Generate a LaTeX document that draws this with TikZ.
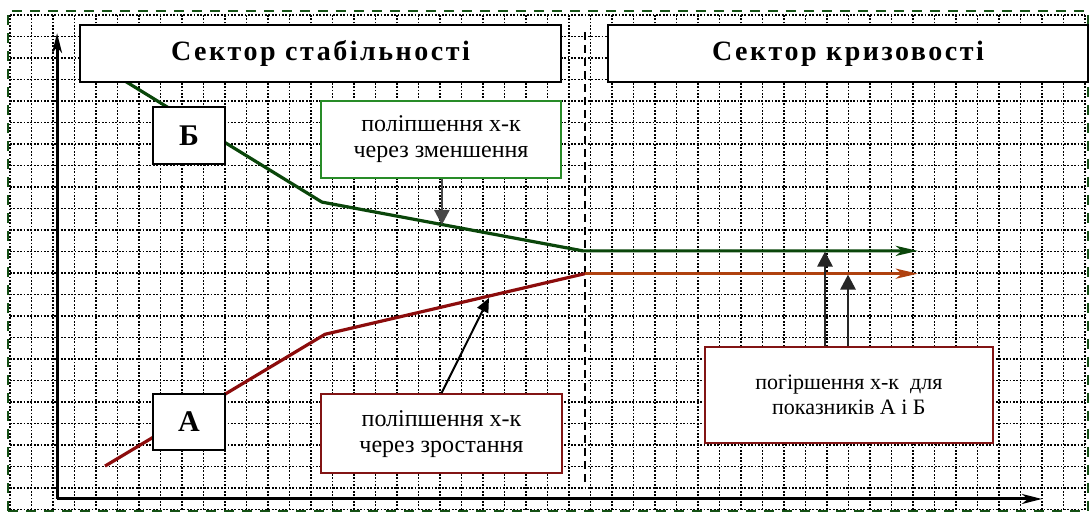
\documentclass[tikz,border=0pt]{standalone}
\usepackage{fontspec}
\setmainfont{Liberation Serif}
\newfontfamily\spacedfont[LetterSpace=9]{Liberation Serif}
\usepackage{tikz}
\usetikzlibrary{arrows.meta,positioning,calc}
\definecolor{curveB}{RGB}{10,70,10}
\definecolor{curveA}{RGB}{140,12,12}
\definecolor{curveAflat}{RGB}{175,65,15}
\definecolor{boxgreen}{RGB}{40,140,40}
\definecolor{boxred}{RGB}{130,20,20}
\definecolor{framegreen}{RGB}{20,80,20}
\tikzset{%
  box/.style={draw,fill=white,align=center,line width=1pt,inner sep=0pt},
  arrow/.style={-{Triangle[length=7.5pt,width=7.5pt]}, line width=1.4pt}%
}

\begin{document}
\begin{tikzpicture}[
    x=10.75pt, y=10.75pt,
    sector/.style={
        box,
        minimum width=240.5pt,
        minimum height=28.5pt,
        font=\spacedfont\bfseries\fontsize{14}{16}\selectfont
    },
    tag/.style={
        box,
        minimum width=36pt,
        minimum height=28.5pt,
        font=\bfseries\fontsize{15}{17}\selectfont
    },
    note/.style={
        box,
        font=\fontsize{12}{13}\selectfont
    },
    gridline/.style={black, line width=0.9pt, dash pattern=on 0.9pt off 0.8pt},
    axis/.style={-{Stealth[length=10pt,width=5pt,inset=3pt]}, line width=1.5pt},
    curve/.style={line width=1.6pt},
    tip/.style={-{Stealth[length=11pt,width=5pt,inset=3pt]}}
]
\useasboundingbox (-0.465,-0.116) rectangle (50.19,23.70);

% background grid and frame
\draw[gridline, step={(1,1)}] (0,0) grid (50,23);
\draw[framegreen, line width=1pt, dash pattern=on 5pt off 4pt] (-0.07,-0.07) rectangle (50.12,23.21);

% sector border
\draw[line width=1.2pt, dash pattern=on 4pt off 2.5pt] (26.74,22.21) -- (26.74,1.05);

% axes
\coordinate (origin) at (2.19,0.49);
\coordinate (ytip) at (2.19,22.16);
\coordinate (xtip) at (48.0,0.49);
\draw[axis] (origin) -- (ytip);
\draw[axis] (origin) -- (xtip);

% curve B
\coordinate (b0) at (5.3,19.96);
\coordinate (b1) at (14.51,14.30);
\coordinate (b2) at (26.65,12.03);
\coordinate (b3) at (42.23,12.03);
\draw[curve, curveB, tip] (b0) -- (b1) -- (b2) -- (b3);

% curve A
\coordinate (a0) at (4.42,2.02);
\coordinate (a1) at (14.65,8.15);
\coordinate (a2) at (26.74,10.97);
\coordinate (a3) at (42.23,10.97);
\draw[curve, curveA] (a0) -- (a1) -- (a2);
\draw[curve, curveAflat, tip] (a2) -- (a3);

% Nodes
\node[sector] (stab) at (14.44,21.2) {Сектор стабільності};
\node[sector] (kriz) at (38.98,21.2) {Сектор кризовості};
\node[tag] (tagB) at (8.33,17.4) {Б};
\node[tag, minimum height=28pt] (tagA) at (8.33,4.07) {А};
\node[note, draw=boxgreen, minimum width=120pt, minimum height=38.5pt] (improvdec) at (20.05,17.21) {поліпшення х-к\\через зменшення};
\node[note, draw=boxred, minimum width=120.5pt, minimum height=39.5pt] (improvinc) at (20.07,3.53) {поліпшення х-к\\через зростання};
\node[note, draw=boxred, minimum width=144pt, minimum height=48pt, font=\fontsize{11}{12.5}\selectfont] (worsen) at (39.02,5.33) {погіршення х-к\ \ для\\показників А і Б};

% Arrows
\coordinate (bhit) at (20.09,13.24);
\coordinate (ahit) at (22.28,9.84);
\coordinate (gup) at (37.91,12.0);
\coordinate (rup) at (38.98,10.93);
\draw[arrow, black!72] (improvdec.south -| bhit) -- (bhit);
\draw[-{Triangle[length=7pt,width=6pt]}, line width=1pt] (improvinc.north) -- (ahit);
\draw[arrow, black!85] (worsen.north -| gup) -- (gup);
\draw[arrow, black!85] (worsen.north -| rup) -- (rup);

\end{tikzpicture}
\end{document}
